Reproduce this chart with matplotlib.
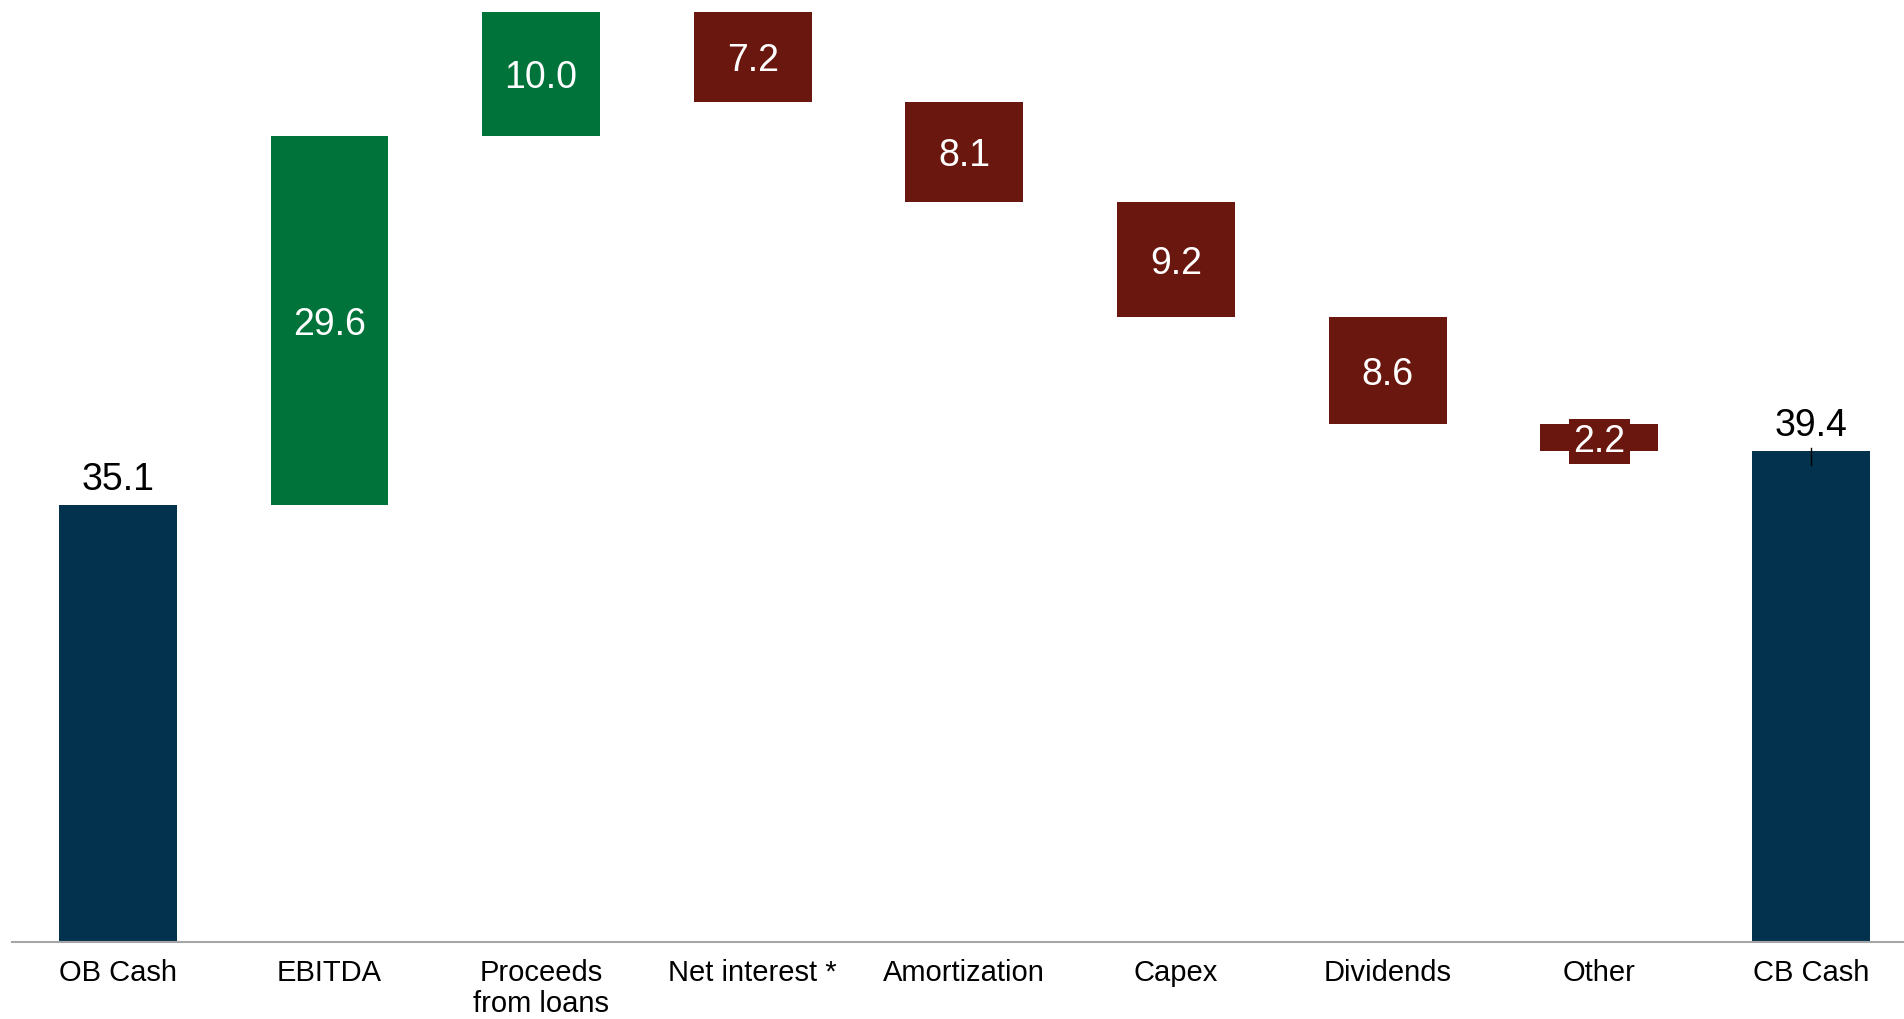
import matplotlib
matplotlib.use('Agg')
import matplotlib.pyplot as plt
import numpy as np

categories = ["OB Cash", "EBITDA", "Proceeds\nfrom loans", "Net interest *",
              "Amortization", "Capex", "Dividends", "Other", "CB Cash"]
changes = [35.1, 29.6, 10.0, -7.2, -8.1, -9.2, -8.6, -2.2]
closing = 39.4

navy = "#03324F"
green = "#00733A"
red = "#6A1710"

plt.rcParams['font.family'] = ['Liberation Sans', 'DejaVu Sans']

fig = plt.figure(figsize=(19.04, 10.19), dpi=100)
ax = fig.add_axes([12 / 1904, 77 / 1019, 1 - 12 / 1904, 942 / 1019])

x = np.arange(len(categories))
width = 0.557

# running totals for the floating bars
running = np.cumsum(changes)
starts = np.concatenate([[0], running[:-1]])

bottoms = []
heights = []
colors = []
for i, c in enumerate(changes):
    if i == 0:
        bottoms.append(0)
        heights.append(c)
        colors.append(navy)
    elif c >= 0:
        bottoms.append(starts[i])
        heights.append(c)
        colors.append(green)
    else:
        bottoms.append(starts[i] + c)
        heights.append(-c)
        colors.append(red)
bottoms.append(0)
heights.append(closing)
colors.append(navy)

ax.bar(x, heights, width, bottom=bottoms, color=colors)

for i in range(len(categories)):
    if colors[i] == navy:
        ax.text(x[i], bottoms[i] + heights[i] + 0.6, f"{heights[i]:.1f}",
                ha='center', va='bottom', fontsize=27, color='black')
    else:
        kw = {}
        if heights[i] < 3:
            kw['bbox'] = dict(boxstyle='square,pad=0.12', facecolor=red, edgecolor='none')
        ax.text(x[i], bottoms[i] + heights[i] / 2, f"{heights[i]:.1f}",
                ha='center', va='center_baseline', fontsize=27, color='white', **kw)

# small connector tick on the closing bar
ax.plot([x[-1], x[-1]], [closing + 0.3, closing - 1.1], color='black', lw=1)

ax.set_xlim(-0.5, 8.44)
ax.set_ylim(0, 75.66)
ax.set_xticks(x)
ax.set_xticklabels(categories, fontsize=21, linespacing=1.15)
ax.tick_params(axis='x', length=0, pad=12)
ax.set_yticks([])
for s in ['top', 'right', 'left']:
    ax.spines[s].set_visible(False)
ax.spines['bottom'].set_color('#A6A6A6')
ax.spines['bottom'].set_linewidth(1.5)

plt.savefig('out.png', dpi=100)
